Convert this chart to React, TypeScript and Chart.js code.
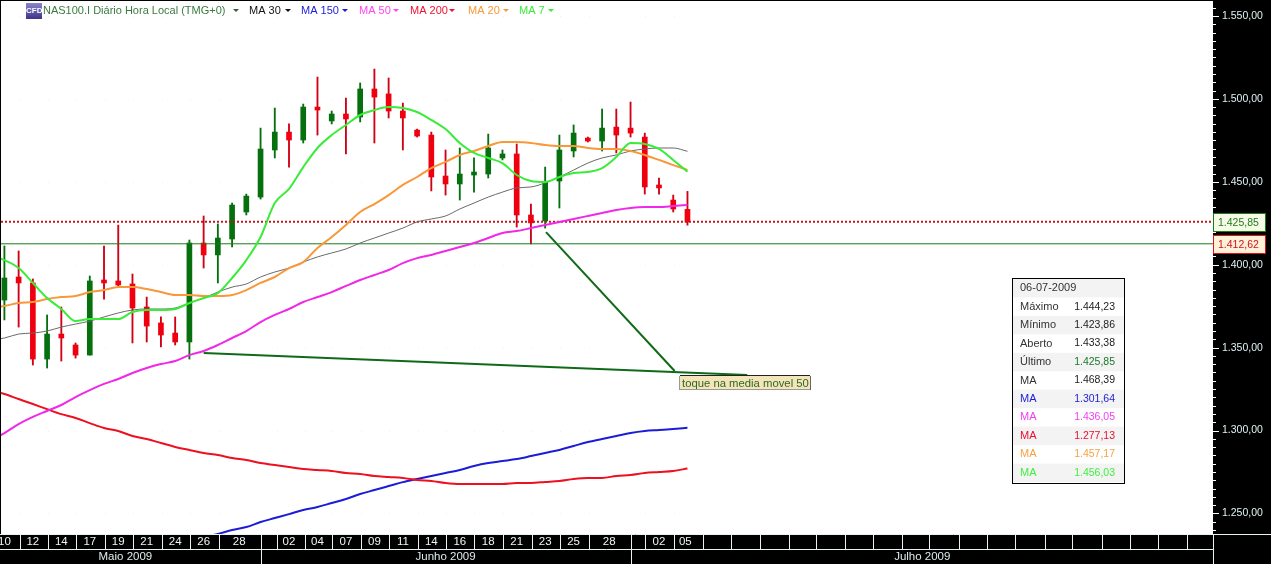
import React, { useEffect, useRef } from "react";
import { Chart, registerables } from "chart.js";

Chart.register(...registerables);

const opens = [1378.7,1392.6,1389.0,1343.1,1358.2,1351.6,1345.5,1390.8,1390.2,1388.4,1374.5,1364.9,1358.8,1353.4,1413.1,1405.9,1415.5,1431.8,1440.8,1469.2,1480.0,1475.2,1495.1,1486.7,1490.9,1489.1,1506.0,1503.0,1492.7,1481.2,1478.2,1453.5,1448.7,1454.1,1454.7,1464.4,1466.8,1430.0,1426.4,1450.5,1468.6,1476.4,1474.6,1483.0,1482.4,1477.0,1448.1,1439.0,1433.38];
const closes = [1392.0,1389.0,1343.1,1358.2,1355.8,1345.5,1390.2,1389.0,1387.8,1373.9,1363.0,1357.6,1353.4,1413.1,1405.9,1416.1,1436.0,1441.4,1469.8,1480.0,1475.2,1495.1,1493.3,1490.9,1487.9,1506.0,1501.1,1492.7,1488.5,1477.6,1452.9,1448.7,1454.7,1455.9,1470.4,1466.8,1430.0,1425.2,1449.9,1469.2,1479.4,1474.6,1482.4,1478.2,1479.4,1446.9,1446.3,1433.6,1425.85];
const highs = [1411.3,1408.3,1391.4,1369.7,1374.5,1352.8,1393.2,1411.3,1423.9,1394.4,1380.5,1368.5,1368.5,1414.9,1429.4,1424.6,1437.2,1442.6,1482.4,1494.5,1484.9,1496.9,1513.2,1492.7,1500.5,1509.6,1518.0,1512.6,1497.5,1481.8,1480.0,1469.2,1470.4,1464.4,1478.8,1469.2,1472.8,1436.6,1458.9,1478.2,1484.3,1477.0,1493.9,1493.9,1498.1,1479.4,1452.3,1442.0,1444.23];
const lows = [1366.7,1362.4,1339.5,1337.7,1341.9,1343.7,1345.5,1379.3,1387.2,1352.8,1353.4,1350.4,1351.6,1343.1,1398.0,1389.0,1410.7,1430.0,1439.6,1464.4,1458.9,1473.4,1478.2,1484.9,1466.8,1486.1,1473.4,1488.5,1469.2,1477.0,1444.5,1442.0,1439.0,1443.8,1452.3,1463.2,1422.7,1412.62,1422.1,1434.2,1465.0,1474.0,1468.6,1467.4,1477.0,1442.6,1442.6,1431.8,1423.86];

// Moving averages: the first value belongs to the session just before the first candle.
const ma7 = [1405.2,1402.8,1398.0,1389.0,1379.9,1373.3,1366.0,1367.2,1367.2,1367.2,1371.5,1372.7,1372.7,1373.3,1376.9,1379.9,1382.9,1392.0,1402.8,1416.7,1437.2,1445.7,1458.9,1470.4,1478.2,1484.3,1490.3,1493.3,1495.1,1494.5,1492.1,1487.3,1481.8,1473.4,1467.4,1464.4,1461.3,1454.1,1450.5,1449.9,1452.9,1455.3,1455.9,1458.3,1465.0,1473.4,1472.8,1469.8,1463.2,1456.03];
const ma20 = [1373.9,1375.1,1376.9,1377.5,1379.3,1380.5,1381.1,1383.5,1384.7,1386.5,1386.5,1385.3,1383.5,1381.7,1381.7,1381.1,1381.1,1381.7,1384.7,1389.0,1392.6,1398.0,1401.6,1410.1,1416.7,1424.0,1431.8,1436.6,1442.0,1448.1,1452.9,1458.3,1462.0,1466.2,1468.6,1471.6,1474.0,1474.0,1473.4,1472.2,1471.6,1471.6,1470.4,1469.8,1469.8,1468.6,1466.2,1463.2,1460.1,1457.17];
const ma30 = [1354.6,1355.8,1358.2,1358.8,1360.0,1362.4,1364.2,1366.0,1368.5,1370.9,1372.7,1373.3,1373.3,1373.9,1376.9,1379.9,1383.5,1386.5,1388.4,1392.6,1395.6,1398.0,1401.6,1404.7,1407.1,1409.5,1413.1,1416.1,1419.1,1422.1,1425.8,1427.6,1429.4,1433.6,1437.2,1440.8,1443.8,1446.3,1446.9,1449.3,1452.9,1457.1,1461.3,1464.4,1466.2,1468.6,1469.8,1470.4,1470.4,1468.39];
const ma50 = [1293.6,1298.5,1303.9,1308.2,1311.8,1315.4,1320.2,1324.4,1328.1,1331.1,1334.7,1337.7,1340.1,1341.9,1345.5,1348.0,1351.6,1355.8,1360.0,1365.4,1369.7,1373.3,1377.5,1380.5,1383.5,1387.2,1390.8,1393.8,1396.8,1401.0,1404.0,1405.9,1408.3,1410.7,1413.1,1416.1,1419.1,1420.3,1422.1,1423.9,1425.8,1427.6,1429.4,1431.2,1433.0,1434.2,1434.8,1434.8,1435.4,1436.05];
const ma200 = [1324.4,1322.0,1319.0,1316.0,1312.9,1309.9,1307.6,1304.5,1301.5,1299.7,1296.7,1294.9,1292.5,1290.1,1288.3,1286.5,1285.2,1283.4,1282.2,1280.4,1279.2,1278.0,1276.8,1276.2,1275.6,1274.4,1273.8,1272.6,1272.0,1271.4,1270.2,1269.6,1268.4,1267.8,1267.8,1267.8,1267.8,1268.4,1268.4,1269.0,1269.6,1270.8,1271.4,1271.4,1272.6,1273.2,1274.4,1275.0,1275.6,1277.13];
// MA 150 only enters the visible range from the candle numbered ma150Start.
const ma150Start = 13;
const ma150 = [1233.4,1235.8,1237.6,1240.0,1241.8,1244.8,1247.2,1249.6,1252.1,1253.9,1256.3,1258.7,1261.7,1264.1,1266.5,1268.9,1270.8,1272.6,1274.4,1276.2,1278.6,1280.4,1281.6,1282.8,1284.6,1286.5,1288.3,1290.7,1293.1,1294.9,1296.7,1298.5,1299.7,1300.3,1300.9,1301.64];

const lastClose = 1425.85;
const periodLow = 1412.62;

const trendA = [{ x: 14.0, y: 1346.8 }, { x: 52.2, y: 1333.5 }];
const trendB = [{ x: 38.06, y: 1419.7 }, { x: 47.1, y: 1335.9 }];
const noteText = "toque na media movel 50";

const dayLabels = ["10","12","14","17","19","21","24","26","28","02","04","07","09","11","14","16","18","21","23","25","28","02","05"];
const daySlots = [0,2,4,6,8,10,12,14,16.5,20,22,24,26,28,30,32,34,36,38,40,42.5,46,47.85];
const daySeparators = [1.08,3.06,5.03,7.07,9.05,11.05,13.05,15.05,19.15,21.1,23.03,25.05,27.03,29.03,31.03,33.03,35.03,37.05,39.05,41.05,45.05,47.05,49.08,51.05,53.1,55.1,57.05,59.06,61.04,63.07,65.0,67.1,69.05,71.05,73.1,75.05,77.1,79.1,81.05,83.1];
const monthLabels = ["Maio 2009","Junho 2009","Julho 2009"];
const monthSlots = [8.5,31.0,64.5];
const monthSeparators = [18.05,44.05];

const legendTitle = "NAS100.I Diário Hora Local (TMG+0)";
const legendNames = ["MA 30","MA 150","MA 50","MA 200","MA 20","MA 7"];
const panelDate = "06-07-2009";
const panelLabels = ["Máximo","Mínimo","Aberto","Último","MA","MA","MA","MA","MA","MA"];
const panelValues = ["1.444,23","1.423,86","1.433,38","1.425,85","1.468,39","1.301,64","1.436,05","1.277,13","1.457,17","1.456,03"];

const GREEN = "#06700f";
const RED = "#f0000f";
const WICK_RED = "#d00015";
const C30 = "#6a6a6a";
const C150 = "#1c1cd8";
const C50 = "#f028e8";
const C200 = "#ee1020";
const C20 = "#f89838";
const C7 = "#38ec38";

const FONT = '"Liberation Sans", Arial, sans-serif';
const X_MIN = -0.239;
const X_MAX = 84.93;
const Y_MIN = 1237.6;
const Y_MAX = 1559.05;

function fmt(v: number): string {
  const s = v.toFixed(2).replace(".", ",");
  return s.length > 6 ? s[0] + "." + s.slice(1) : s;
}

const line = (label: string, color: string, width: number, data: any[], order: number, dash?: number[], smooth = true) => ({
  type: "line" as const,
  label,
  data,
  borderColor: color,
  backgroundColor: color,
  borderWidth: width,
  borderDash: dash || [],
  pointRadius: 0,
  cubicInterpolationMode: smooth ? "monotone" : "default",
  tension: 0,
  order,
  xAxisID: "x",
  yAxisID: "y",
});

const maPoints = (vals: number[], start: number) => vals.map((y, i) => ({ x: i + start, y }));

const noPad = (s: any) => {
  s.paddingLeft = 0;
  s.paddingRight = 0;
  s.paddingTop = 0;
  s.paddingBottom = 0;
};

const chromePlugin = {
  id: "chrome",
  beforeDraw(chart: any) {
    const { ctx, chartArea: a, width, height } = chart;
    ctx.save();
    ctx.fillStyle = "#000";
    ctx.fillRect(0, 0, width, height);
    ctx.fillStyle = "#fff";
    ctx.fillRect(a.left, a.top, a.right - a.left, a.bottom - a.top);
    ctx.fillStyle = "#f0f0f0";
    const sx = chart.scales.x;
    const sy = chart.scales.y;
    for (let p = 1250; p <= 1550; p += 50) {
      const py = sy.getPixelForValue(p);
      for (const s of daySeparators) {
        if (s < 48) ctx.fillRect(Math.round(sx.getPixelForValue(s)), Math.round(py), 1, 1);
      }
    }
    ctx.restore();
  },
  afterDraw(chart: any) {
    const { ctx, chartArea: a, width, height } = chart;
    const sx = chart.scales.x;
    const sy = chart.scales.y;
    ctx.save();
    ctx.strokeStyle = "#fff";
    ctx.lineWidth = 1;
    for (const t of sy.ticks) {
      const py = Math.round(sy.getPixelForValue(t.value)) + 0.5;
      const major = t.value % 50 === 0;
      ctx.beginPath();
      ctx.moveTo(a.right, py);
      ctx.lineTo(a.right + (major ? 6 : 3), py);
      ctx.stroke();
    }
    ctx.strokeStyle = "#e8f4f4";
    const hline = (y: number, x0: number, x1: number) => {
      ctx.beginPath();
      ctx.moveTo(x0, y + 0.5);
      ctx.lineTo(x1, y + 0.5);
      ctx.stroke();
    };
    const vline = (x: number, y0: number, y1: number) => {
      ctx.beginPath();
      ctx.moveTo(Math.round(x) + 0.5, y0);
      ctx.lineTo(Math.round(x) + 0.5, y1);
      ctx.stroke();
    };
    hline(a.bottom, 0, width);
    hline(a.bottom + 15, 0, a.right);
    for (const s of daySeparators) vline(sx.getPixelForValue(s), a.bottom, a.bottom + 15);
    for (const s of monthSeparators) vline(sx.getPixelForValue(s), a.bottom, height);
    vline(a.right, a.bottom, height);

    const nx = Math.round(sx.getPixelForValue(47.5));
    const ny = Math.round(sy.getPixelForValue(1333.0));
    ctx.fillStyle = "#f4e4bc";
    ctx.fillRect(nx, ny, 130, 14);
    ctx.strokeStyle = "#222";
    hline(ny - 1, nx, nx + 130);
    ctx.strokeStyle = "#666";
    vline(nx + 130, ny, ny + 14);
    ctx.strokeStyle = "#999";
    hline(ny + 13, nx, nx + 130);
    vline(nx - 1, ny, ny + 14);
    ctx.fillStyle = "#2c6a1e";
    ctx.font = `11.3px ${FONT}`;
    ctx.textAlign = "left";
    ctx.textBaseline = "middle";
    ctx.fillText(noteText, nx + 2, ny + 7.5);

    const flag = (v: number, border: string, fill: string, text: string) => {
      const cy = Math.round(sy.getPixelForValue(v));
      ctx.fillStyle = fill;
      ctx.fillRect(a.right, cy - 9, 52, 18);
      ctx.strokeStyle = border;
      ctx.strokeRect(a.right + 0.5, cy - 9 + 0.5, 52, 18);
      ctx.fillStyle = text;
      ctx.font = `10.5px ${FONT}`;
      ctx.textAlign = "left";
      ctx.fillText(fmt(v), a.right + 5, cy + 1);
    };
    flag(lastClose, "#1d7a1d", "#f6fbe6", "#1f7a1f");
    flag(periodLow, "#e01020", "#fdf2d8", "#d01020");

    ctx.textBaseline = "middle";
    const grad = ctx.createLinearGradient(0, 3, 0, 19);
    grad.addColorStop(0, "#8a86cc");
    grad.addColorStop(1, "#3c3488");
    ctx.fillStyle = grad;
    ctx.fillRect(26, 3, 16, 16);
    ctx.fillStyle = "#fff";
    ctx.font = `bold 8px ${FONT}`;
    ctx.fillText("CFD", 26, 11);
    const tri = (x: number, color: string) => {
      ctx.fillStyle = color;
      ctx.beginPath();
      ctx.moveTo(x - 3, 9);
      ctx.lineTo(x + 3, 9);
      ctx.lineTo(x, 12);
      ctx.closePath();
      ctx.fill();
    };
    ctx.font = `11px ${FONT}`;
    ctx.fillStyle = "#3a7a40";
    ctx.fillText(legendTitle, 43, 11);
    tri(236, "#3a5a40");
    const legendX = [249, 301, 359, 410, 468, 519];
    const triX = [288, 345, 396, 452, 506, 551];
    const legendC = ["#111", C150, "#ff44f0", "#f01030", C20, C7];
    legendNames.forEach((n, i) => {
      ctx.fillStyle = legendC[i];
      ctx.fillText(n, legendX[i], 11);
      tri(triX[i], legendC[i]);
    });

    const px0 = 1012, py0 = 278, pw = 112, ph = 205;
    const rh = (ph - 2) / 11;
    ctx.fillStyle = "#fff";
    ctx.fillRect(px0, py0, pw, ph);
    for (let i = 0; i < 11; i += 2) {
      ctx.fillStyle = "#f3f3f3";
      ctx.fillRect(px0, py0 + 1 + i * rh, pw, rh);
    }
    ctx.strokeStyle = "#000";
    ctx.strokeRect(px0 + 0.5, py0 + 0.5, pw, ph);
    ctx.textAlign = "left";
    ctx.fillStyle = "#333";
    ctx.font = `11px ${FONT}`;
    ctx.fillText(panelDate, 1020, py0 + 1 + rh / 2);
    const lblC = ["#333", "#333", "#333", "#333", "#333", C150, "#f040f0", "#e81030", "#f8a040", "#40f040"];
    const valC = ["#222", "#222", "#222", "#1a7a2a", "#222", C150, "#f040f0", "#e81030", "#f8a040", "#40f040"];
    panelLabels.forEach((l, i) => {
      const cy = py0 + 1 + (i + 1.5) * rh;
      ctx.textAlign = "left";
      ctx.font = `11px ${FONT}`;
      ctx.fillStyle = lblC[i];
      ctx.fillText(l, 1020, cy);
      ctx.textAlign = "right";
      ctx.font = `10.5px ${FONT}`;
      ctx.fillStyle = valC[i];
      ctx.fillText(panelValues[i], 1115, cy);
    });
    ctx.restore();
  },
};

export default function App() {
  const ref = useRef<HTMLCanvasElement | null>(null);
  useEffect(() => {
    const idx = opens.map((_, i) => i);
    const colors = opens.map((o, i) => (closes[i] >= o ? GREEN : RED));
    const wickColors = opens.map((o, i) => (closes[i] >= o ? GREEN : WICK_RED));
    const chart = new Chart(ref.current as HTMLCanvasElement, {
      type: "bar",
      plugins: [chromePlugin],
      data: {
        datasets: [
          line("MA 7", C7, 2, maPoints(ma7, -1), 1),
          line("MA 20", C20, 2, maPoints(ma20, -1), 2),
          line("MA 50", C50, 2, maPoints(ma50, -1), 3),
          line("MA 200", C200, 2, maPoints(ma200, -1), 4),
          line("MA 150", C150, 2, maPoints(ma150, ma150Start), 5),
          line("MA 30", C30, 1, maPoints(ma30, -1), 6),
          line("Último", "#c01818", 2, [{ x: X_MIN, y: lastClose }, { x: X_MAX, y: lastClose }], 7, [2, 2], false),
          line("Mínimo", "#1a7a1a", 1, [{ x: X_MIN, y: periodLow }, { x: X_MAX, y: periodLow }], 8, [], false),
          line("Trend A", "#0f6a18", 2, trendA, 9, [], false),
          line("Trend B", "#0f6a18", 2, trendB, 10, [], false),
          {
            type: "bar",
            label: "Corpo",
            data: idx.map((i) => ({ x: i, y: [opens[i], closes[i]] })),
            backgroundColor: colors,
            barThickness: 5,
            grouped: false,
            borderWidth: 0,
            order: 20,
          },
          {
            type: "bar",
            label: "Pavio",
            data: idx.map((i) => ({ x: i, y: [lows[i], highs[i]] })),
            backgroundColor: wickColors,
            barThickness: 1.2,
            grouped: false,
            borderWidth: 0,
            order: 21,
          },
        ] as any,
      },
      options: {
        responsive: false,
        devicePixelRatio: 1,
        animation: false,
        layout: { padding: { left: 1, top: 1, right: 0, bottom: 0 }, autoPadding: false },
        plugins: { legend: { display: false }, tooltip: { enabled: false }, title: { display: false } },
        scales: {
          x: {
            type: "linear",
            position: "bottom",
            min: X_MIN,
            max: X_MAX,
            offset: false,
            grid: { display: false, drawTicks: false, offset: false },
            border: { display: false },
            afterFit: (s: any) => { s.height = 15; noPad(s); },
            afterBuildTicks: (s: any) => { s.ticks = daySlots.map((v) => ({ value: v })); },
            ticks: {
              autoSkip: false,
              maxRotation: 0,
              padding: 1,
              color: "#f2f6f6",
              font: { family: FONT, size: 11.5 },
              callback: (_v: any, i: number) => dayLabels[i],
            },
          },
          x2: {
            type: "linear",
            position: "bottom",
            axis: "x",
            min: X_MIN,
            max: X_MAX,
            offset: false,
            grid: { display: false, drawTicks: false, offset: false },
            border: { display: false },
            afterFit: (s: any) => { s.height = 15; noPad(s); },
            afterBuildTicks: (s: any) => { s.ticks = monthSlots.map((v) => ({ value: v })); },
            ticks: {
              autoSkip: false,
              maxRotation: 0,
              padding: 1,
              color: "#dfeaea",
              font: { family: FONT, size: 11.5 },
              callback: (_v: any, i: number) => monthLabels[i],
            },
          },
          y: {
            type: "linear",
            position: "right",
            min: Y_MIN,
            max: Y_MAX,
            grid: { display: false, drawTicks: false },
            border: { display: false },
            afterFit: (s: any) => { s.width = 58; noPad(s); },
            ticks: {
              stepSize: 5,
              autoSkip: false,
              includeBounds: false,
              padding: 9,
              color: "#dff2f2",
              font: { family: FONT, size: 10.5 },
              callback: (v: any) => (Number(v) % 50 === 0 ? fmt(Number(v)) : ""),
            },
          },
        },
      } as any,
    });
    return () => chart.destroy();
  }, []);
  return (
    <canvas
      ref={ref}
      width={1271}
      height={564}
      style={{ position: "fixed", left: 0, top: 0, width: 1271, height: 564, display: "block" }}
    />
  );
}
